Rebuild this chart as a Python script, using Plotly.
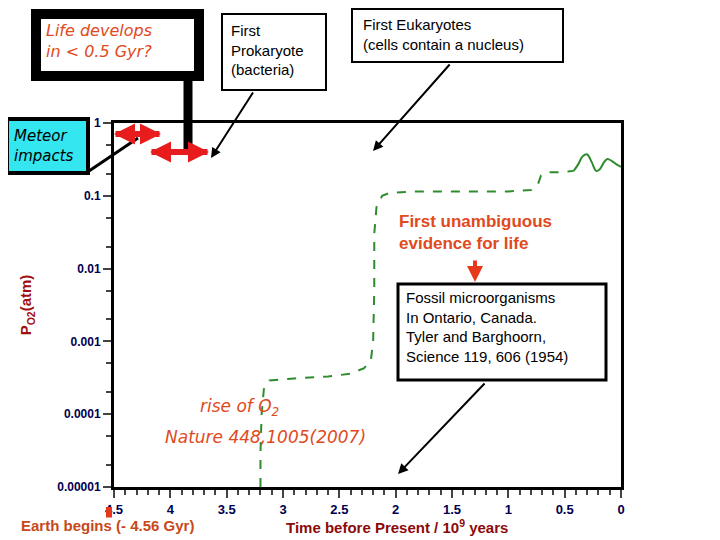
import plotly.graph_objects as go

dash_t = [3.2, 3.2, 3.19, 3.17, 3.12, 2.9, 2.6, 2.4, 2.28, 2.22, 2.2, 2.19, 2.19, 2.17, 2.12, 2.05, 1.8, 1.5, 1.0, 0.8, 0.74, 0.71, 0.66, 0.55, 0.42]
dash_p = [1e-5, 3e-5, 1e-4, 2.2e-4, 2.9e-4, 3.1e-4, 3.3e-4, 3.6e-4, 4.3e-4, 5.5e-4, 1e-3, 5e-3, 0.03, 0.07, 0.1, 0.11, 0.115, 0.115, 0.115, 0.12, 0.14, 0.19, 0.21, 0.21, 0.22]
solid_t = [0.42, 0.38, 0.34, 0.3, 0.26, 0.22, 0.19, 0.15, 0.12, 0.08, 0.04, 0.0]
solid_p = [0.22, 0.27, 0.35, 0.37, 0.29, 0.22, 0.23, 0.29, 0.32, 0.3, 0.27, 0.25]
yticks = [1, 0.1, 0.01, 0.001, 0.0001, 0.00001]
ylabels = ["1", "0.1", "0.01", "0.001", "0.0001", "0.00001"]
xticks = [4.5, 4, 3.5, 3, 2.5, 2, 1.5, 1, 0.5, 0]
xlabels = ["4.5", "4", "3.5", "3", "2.5", "2", "1.5", "1", "0.5", "0"]

L, R, T, B = 113, 620, 122, 486
OFF = 7
def px(x): return (x - L) / (R - L)
def py(y): return (B - y) / (B - T)

fig = go.Figure()
fig.add_trace(go.Scatter(x=dash_t, y=dash_p, mode="lines", line=dict(color="#2e8b2e", width=2, dash="dash"), hoverinfo="skip"))
fig.add_trace(go.Scatter(x=solid_t, y=solid_p, mode="lines", line=dict(color="#2e8b2e", width=2, shape="spline"), hoverinfo="skip"))

shapes = []
def rect(x0, y0, x1, y1, lw, fill="white", col="black"):
    shapes.append(dict(type="rect", xref="paper", yref="paper", x0=px(x0), x1=px(x1), y0=py(y1), y1=py(y0),
                       line=dict(color=col, width=lw), fillcolor=fill, layer="above"))
def line(x0, y0, x1, y1, lw, col="black"):
    shapes.append(dict(type="line", xref="paper", yref="paper", x0=px(x0), x1=px(x1), y0=py(y0), y1=py(y1),
                       line=dict(color=col, width=lw), layer="above"))

rect(35, 13, 198, 75, 10)
line(187, 78, 187, 150, 9)
rect(221, 13, 325, 89, 2)
rect(351, 8, 562, 61, 2)
rect(6, 118, 87, 172, 4, fill="#33e6f0")
line(88, 170, 137, 137, 3)
rect(397, 283, 605, 379, 3)
fig.update_layout(shapes=shapes)

ann = []
comic = dict(family="DejaVu Sans", color="#e04a1c")
def txt(x, y, text, size, font, xanchor="left", yanchor="top", align="left"):
    ann.append(dict(xref="paper", yref="paper", x=px(x), y=py(y), text=text, showarrow=False,
                    xanchor=xanchor, yanchor=yanchor, align=align, font=dict(size=size, **font)))
def arrow(x0, y0, x1, y1, col="black", w=2, head=2, size=1):
    ann.append(dict(xref="paper", yref="paper", x=px(x1), y=py(y1), ax=x0 - x1, ay=y0 - y1, axref="pixel", ayref="pixel",
                    text="", showarrow=True, arrowhead=head, arrowwidth=w, arrowcolor=col, arrowsize=size))

txt(43, 18, "<i>Life develops<br>in &lt; 0.5 Gyr?</i>", 16, comic)
txt(228, 19, "First<br>Prokaryote<br>(bacteria)", 15, dict(family="Liberation Sans", color="black"))
txt(360, 13, "First Eukaryotes<br>(cells contain a nucleus)", 15, dict(family="Liberation Sans", color="black"))
txt(11, 124, "<i>Meteor<br>impacts</i>", 15, dict(family="DejaVu Sans", color="black"))
txt(396, 209, "<b>First unambiguous<br>evidence for life</b>", 17, dict(family="Liberation Sans", color="#e04a1c"))
txt(403, 286, "Fossil microorganisms<br>In Ontario, Canada.<br>Tyler and Barghoorn,<br>Science 119, 606 (1954)", 15, dict(family="Liberation Sans", color="black"))
txt(197, 393, "<i>rise of O<sub>2</sub></i>", 17, comic)
txt(162, 424, "<i>Nature 448,1005(2007)</i>", 17, comic)
txt(18, 514, "<b>Earth begins (- 4.56 Gyr)</b>", 15, dict(family="Liberation Sans", color="#c84818"))
txt(283, 514, "<b>Time before Present / 10<sup>9</sup> years</b>", 15, dict(family="Liberation Sans", color="#8b0a0a"))
arrow(253, 90, 210, 157)
arrow(450, 62, 372, 150)
arrow(485, 381, 397, 473)
arrow(474, 258, 474, 281, col="#e8381c", w=4, head=2, size=0.8)
arrow(108, 518, 108, 506, col="#e8381c", w=6, head=0)
for (x0, x1, y) in [(113, 160, 133), (149, 208, 151)]:
    arrow(x0, y, x1, y, col="#e81c1c", w=6, head=2, size=0.7)
    arrow(x1, y, x0, y, col="#e81c1c", w=6, head=2, size=0.7)
fig.update_layout(annotations=ann)

fig.update_layout(
    width=720, height=540, margin=dict(l=L - OFF, r=720 - R + OFF, t=T - OFF, b=540 - B + OFF),
    plot_bgcolor="white", paper_bgcolor="white", showlegend=False,
    xaxis=dict(range=[4.5, 0], tickvals=xticks, ticktext=xlabels, ticks="outside", ticklen=8, tickwidth=2,
               minor=dict(dtick=0.1, ticks="outside", ticklen=5, tickwidth=2, tick0=0),
               showline=True, linecolor="black", linewidth=3, mirror=True, showgrid=False, zeroline=False,
               tickfont=dict(family="Liberation Sans", size=13, color="#000050", weight="bold")),
    yaxis=dict(type="log", range=[-5, 0], tickvals=yticks, ticktext=ylabels, ticks="outside", ticklen=8, tickwidth=2,
               minor=dict(ticks="outside", ticklen=5, tickwidth=2, showgrid=False),
               showline=True, linecolor="black", linewidth=3, mirror=True, showgrid=False, zeroline=False,
               tickfont=dict(family="Liberation Sans", size=12, color="#000050", weight="bold"),
               title=dict(text="<b>P<sub>O2</sub>(atm)</b>", font=dict(family="Liberation Sans", size=15, color="#a01010"), standoff=22)),
)
fig.write_html("out.html")
